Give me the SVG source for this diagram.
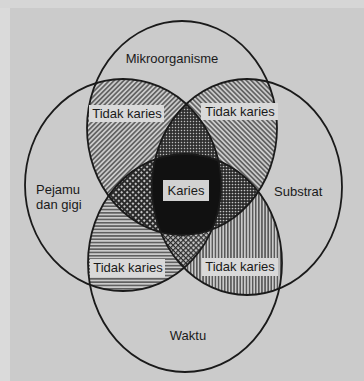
<svg xmlns="http://www.w3.org/2000/svg" width="364" height="381" viewBox="0 0 364 381">
<style>
.ring{fill:none;stroke:#1a1a1a;stroke-width:1.8}
.lbl{font-family:"Liberation Sans",Arial,sans-serif;font-size:13px;fill:#1a1a1a}
.box{fill:#d9d9d9}
</style>
<defs>
<clipPath id="cT"><ellipse cx="182" cy="128" rx="95" ry="107"/></clipPath>
<clipPath id="cL"><ellipse cx="123" cy="185" rx="98" ry="106"/></clipPath>
<clipPath id="cR"><ellipse cx="247" cy="187" rx="95" ry="108"/></clipPath>
<clipPath id="cB"><ellipse cx="185" cy="263" rx="97" ry="109"/></clipPath>
<pattern id="pSl" patternUnits="userSpaceOnUse" width="3.4" height="3.4" patternTransform="rotate(45)"><rect width="3.4" height="3.4" fill="#cbcbcb"/><line x1="1.7" y1="0" x2="1.7" y2="3.4" stroke="#2a2a2a" stroke-width="1.1"/></pattern>
<pattern id="pBs" patternUnits="userSpaceOnUse" width="3.4" height="3.4" patternTransform="rotate(-45)"><rect width="3.4" height="3.4" fill="#cbcbcb"/><line x1="1.7" y1="0" x2="1.7" y2="3.4" stroke="#2a2a2a" stroke-width="1.1"/></pattern>
<pattern id="pH" patternUnits="userSpaceOnUse" width="4" height="3.3"><rect width="4" height="3.3" fill="#cbcbcb"/><line x1="0" y1="1.65" x2="4" y2="1.65" stroke="#2a2a2a" stroke-width="1.1"/></pattern>
<pattern id="pV" patternUnits="userSpaceOnUse" width="3.1" height="4"><rect width="3.1" height="4" fill="#cbcbcb"/><line x1="1.55" y1="0" x2="1.55" y2="4" stroke="#2a2a2a" stroke-width="1.1"/></pattern>
<pattern id="pTLR" patternUnits="userSpaceOnUse" width="3" height="3"><rect width="3" height="3" fill="#2a2a2a"/><rect x="0.8" y="0.8" width="1.4" height="1.4" fill="#bdbdbd"/></pattern>
<pattern id="pTLB" patternUnits="userSpaceOnUse" width="4" height="4" patternTransform="rotate(45)"><rect width="4" height="4" fill="#2a2a2a"/><rect x="1" y="1" width="2" height="2" fill="#c4c4c4"/></pattern>
<pattern id="pTRB" patternUnits="userSpaceOnUse" width="3" height="3"><rect width="3" height="3" fill="#2a2a2a"/><circle cx="1.5" cy="1.5" r="0.85" fill="#c4c4c4"/></pattern>
<pattern id="pLRB" patternUnits="userSpaceOnUse" width="3.6" height="3.6" patternTransform="rotate(45)"><rect width="3.6" height="3.6" fill="#c4c4c4"/><line x1="0" y1="0.6" x2="3.6" y2="0.6" stroke="#2a2a2a" stroke-width="1.2"/><line x1="0.6" y1="0" x2="0.6" y2="3.6" stroke="#2a2a2a" stroke-width="1.2"/></pattern>
</defs>
<rect width="364" height="381" fill="#cbcbcb"/>
<rect width="10" height="381" fill="#dadada"/>
<rect width="364" height="8" fill="#d6d6d6"/>

<g id="regions">
<g clip-path="url(#cT)"><ellipse cx="123" cy="185" rx="98" ry="106" fill="url(#pSl)"/></g>
<g clip-path="url(#cT)"><ellipse cx="247" cy="187" rx="95" ry="108" fill="url(#pBs)"/></g>
<g clip-path="url(#cL)"><ellipse cx="185" cy="263" rx="97" ry="109" fill="url(#pH)"/></g>
<g clip-path="url(#cR)"><ellipse cx="185" cy="263" rx="97" ry="109" fill="url(#pV)"/></g>
<g clip-path="url(#cT)"><g clip-path="url(#cL)"><ellipse cx="247" cy="187" rx="95" ry="108" fill="url(#pTLR)"/></g></g>
<g clip-path="url(#cT)"><g clip-path="url(#cL)"><ellipse cx="185" cy="263" rx="97" ry="109" fill="url(#pTLB)"/></g></g>
<g clip-path="url(#cT)"><g clip-path="url(#cR)"><ellipse cx="185" cy="263" rx="97" ry="109" fill="url(#pTRB)"/></g></g>
<g clip-path="url(#cL)"><g clip-path="url(#cR)"><ellipse cx="185" cy="263" rx="97" ry="109" fill="url(#pLRB)"/></g></g>
<g clip-path="url(#cT)"><g clip-path="url(#cL)"><g clip-path="url(#cR)"><ellipse cx="185" cy="263" rx="97" ry="109" fill="#111"/></g></g></g>
</g>

<g id="mikroorganisme">
<ellipse class="ring" cx="182" cy="128" rx="95" ry="107"/>
<text class="lbl" x="172" y="63" text-anchor="middle">Mikroorganisme</text>
</g>
<g id="pejamu">
<ellipse class="ring" cx="123" cy="185" rx="98" ry="106"/>
<text class="lbl" x="36" y="194">Pejamu</text>
<text class="lbl" x="36" y="209">dan gigi</text>
</g>
<g id="substrat">
<ellipse class="ring" cx="247" cy="187" rx="95" ry="108"/>
<text class="lbl" x="274" y="196">Substrat</text>
</g>
<g id="waktu">
<ellipse class="ring" cx="185" cy="263" rx="97" ry="109"/>
<text class="lbl" x="188" y="340" text-anchor="middle">Waktu</text>
</g>

<g id="tidak-karies-tl"><rect class="box" x="89" y="105" width="75" height="17"/><text class="lbl" x="127" y="118" text-anchor="middle">Tidak karies</text></g>
<g id="tidak-karies-tr"><rect class="box" x="201" y="103" width="77" height="17"/><text class="lbl" x="240" y="116" text-anchor="middle">Tidak karies</text></g>
<g id="tidak-karies-bl"><rect class="box" x="90" y="259" width="75" height="18"/><text class="lbl" x="128" y="272" text-anchor="middle">Tidak karies</text></g>
<g id="tidak-karies-br"><rect class="box" x="202" y="258" width="76" height="18"/><text class="lbl" x="240" y="271" text-anchor="middle">Tidak karies</text></g>
<g id="karies"><rect x="163" y="180" width="46" height="21" fill="#d2d2d2"/><text class="lbl" x="186" y="195" text-anchor="middle">Karies</text></g>
<g id="connectors"/>
</svg>
